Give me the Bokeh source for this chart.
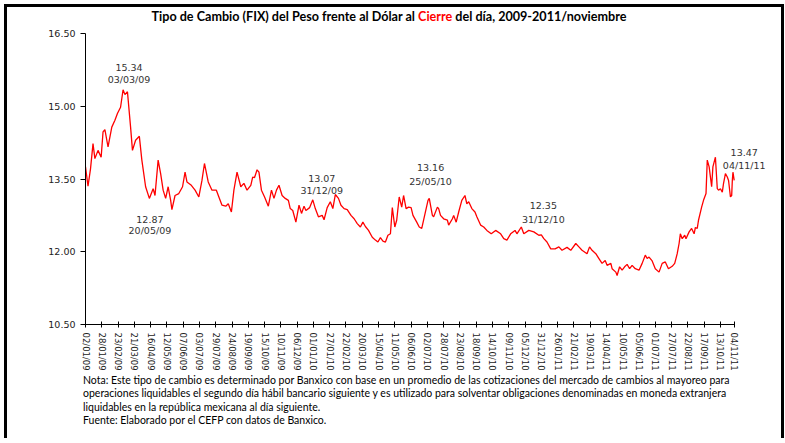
import pandas as pd
from bokeh.plotting import figure
from bokeh.layouts import column
from bokeh.models import (Range1d, FixedTicker, ColumnDataSource,
                          NumeralTickFormatter, Div)
from bokeh.core.properties import value
from bokeh.embed import file_html
from bokeh.resources import INLINE

# ---------------- data ----------------
start_date = "2009-01-02"          # day_offsets are calendar days since this date
day_offsets = [
    0, 4, 8, 12, 15, 20, 25, 28, 31, 36, 42, 47, 51, 56, 60, 63, 67, 72, 75, 80,
    86, 90, 96, 102, 108, 111, 116, 120, 124, 128, 132, 136, 138, 143, 149, 155, 159, 162, 169, 175,
    181, 186, 190, 196, 202, 209, 213, 218, 224, 228, 233, 237, 242, 248, 253, 258, 264, 267, 270, 274,
    277, 281, 286, 292, 297, 301, 305, 309, 314, 319, 324, 327, 331, 336, 341, 345, 349, 352, 358, 363,
    367, 372, 378, 381, 386, 391, 395, 399, 404, 408, 413, 418, 424, 429, 434, 439, 443, 447, 452, 458,
    463, 467, 471, 475, 479, 483, 487, 490, 494, 497, 501, 505, 508, 512, 516, 520, 523, 529, 533, 537,
    547, 549, 554, 556, 562, 564, 567, 572, 578, 580, 586, 588, 592, 596, 601, 606, 609, 612, 617, 622,
    625, 631, 636, 641, 648, 655, 663, 668, 673, 679, 686, 689, 696, 700, 708, 716, 724, 728, 732, 737,
    743, 750, 756, 761, 769, 775, 783, 788, 793, 801, 805, 809, 815, 820, 825, 830, 833, 839, 841, 847,
    849, 853, 857, 861, 865, 869, 873, 878, 884, 889, 894, 897, 900, 905, 910, 916, 921, 926, 931, 937,
    941, 945, 948, 950, 953, 957, 959, 964, 968, 972, 974, 977, 979, 984, 987, 991, 993, 996, 1000, 1002,
    1006, 1009, 1011, 1014, 1017, 1019, 1022, 1025, 1027, 1030, 1032, 1033, 1034, 1036,
]
fix_values = [
    13.75, 13.35, 13.71, 14.23, 13.92, 14.09, 13.95, 14.47, 14.52, 14.16, 14.57, 14.71, 14.85, 14.98, 15.34, 15.24, 15.30, 14.57, 14.09, 14.30,
    14.38, 13.89, 13.34, 13.10, 13.30, 13.16, 13.89, 13.61, 13.27, 13.10, 13.34, 13.06, 12.87, 13.16, 13.20, 13.34, 13.64, 13.44, 13.37, 13.27,
    13.13, 13.47, 13.82, 13.44, 13.27, 13.27, 13.13, 12.96, 12.94, 12.99, 12.82, 13.27, 13.64, 13.34, 13.41, 13.27, 13.37, 13.54, 13.53, 13.69,
    13.64, 13.27, 13.13, 12.94, 13.27, 13.10, 13.27, 13.37, 13.16, 13.10, 13.06, 12.89, 12.85, 12.61, 12.96, 12.79, 12.94, 12.85, 12.91, 13.07,
    12.89, 12.72, 12.75, 12.66, 12.91, 13.03, 12.89, 13.18, 13.10, 12.96, 12.89, 12.87, 12.75, 12.68, 12.58, 12.51, 12.61, 12.52, 12.44, 12.30,
    12.24, 12.20, 12.29, 12.22, 12.20, 12.34, 12.37, 12.91, 12.51, 12.65, 13.13, 12.92, 13.16, 12.89, 12.92, 12.91, 12.75, 12.61, 12.51, 12.48,
    13.06, 13.10, 12.75, 12.72, 12.92, 12.89, 12.75, 12.68, 12.65, 12.55, 12.68, 12.75, 12.61, 12.82, 13.06, 13.16, 12.99, 13.03, 12.89, 12.82,
    12.72, 12.55, 12.51, 12.44, 12.37, 12.44, 12.37, 12.27, 12.24, 12.37, 12.44, 12.37, 12.51, 12.37, 12.44, 12.41, 12.34, 12.35, 12.27, 12.20,
    12.06, 12.06, 12.10, 12.03, 12.09, 12.03, 12.17, 12.10, 12.03, 11.96, 12.10, 12.03, 11.96, 11.86, 11.76, 11.82, 11.72, 11.76, 11.65, 11.58,
    11.51, 11.69, 11.62, 11.69, 11.74, 11.65, 11.72, 11.65, 11.62, 11.76, 11.93, 11.86, 11.89, 11.81, 11.65, 11.58, 11.76, 11.79, 11.65, 11.70,
    11.76, 11.96, 12.17, 12.37, 12.27, 12.34, 12.27, 12.41, 12.48, 12.37, 12.50, 12.48, 12.65, 12.92, 13.06, 13.20, 13.89, 13.75, 13.34, 13.75,
    13.95, 13.30, 13.27, 13.30, 13.23, 13.41, 13.61, 13.54, 13.47, 13.13, 13.16, 13.47, 13.64, 13.47,
]

tick_labels = [
    "02/01/09", "28/01/09", "23/02/09", "21/03/09", "16/04/09", "12/05/09", "07/06/09",
    "03/07/09", "29/07/09", "24/08/09", "19/09/09", "15/10/09", "10/11/09", "06/12/09",
    "01/01/10", "27/01/10", "22/02/10", "20/03/10", "15/04/10", "11/05/10", "06/06/10",
    "02/07/10", "28/07/10", "23/08/10", "18/09/10", "14/10/10", "09/11/10", "05/12/10",
    "31/12/10", "26/01/11", "21/02/11", "19/03/11", "14/04/11", "10/05/11", "05/06/11",
    "01/07/11", "27/07/11", "22/08/11", "17/09/11", "13/10/11", "04/11/11",
]
y_ticks = [10.50, 12.00, 13.50, 15.00, 16.50]

ann_dates = ["03/03/09", "20/05/09", "31/12/09", "25/05/10", "31/12/10", "04/11/11"]
ann_values = [15.34, 12.87, 13.07, 13.16, 12.35, 13.47]

title_left = "Tipo de Cambio (FIX) del Peso frente al Dólar al"
title_red = "Cierre"
title_right = "del día, 2009-2011/noviembre"
note_lines = [
    "Nota: Este tipo de cambio es determinado por Banxico con base en un promedio de las cotizaciones del mercado de cambios al mayoreo para",
    "operaciones liquidables el segundo día hábil bancario siguiente y es utilizado  para solventar obligaciones denominadas en moneda extranjera",
    "liquidables en la república mexicana al día siguiente.",
    "Fuente: Elaborado por el CEFP con datos de Banxico.",
]

# ---------------- build ----------------
dates = pd.Timestamp(start_date) + pd.to_timedelta(day_offsets, unit="D")
tick_dates = pd.to_datetime(tick_labels, format="%d/%m/%y")
tick_ms = [float(d.value // 10**6) for d in tick_dates]
ann_x = pd.to_datetime(ann_dates, format="%d/%m/%y")

# room to the right of the last date so the last data label is not clipped
pad_right = pd.Timedelta(days=50)

W, H = 774, 347
p = figure(width=W, height=H, x_axis_type="datetime",
           x_range=Range1d(tick_dates[0], tick_dates[-1] + pad_right),
           y_range=Range1d(y_ticks[0], y_ticks[-1]),
           output_backend="svg", toolbar_location=None,
           min_border_left=78, min_border_right=16,
           min_border_top=6, min_border_bottom=50, margin=(0, 0, 0, 0))
p.background_fill_color = "white"
p.border_fill_color = "white"
p.outline_line_color = None
p.xgrid.visible = False
p.ygrid.visible = False

p.line(dates, fix_values, line_color="#FF0000", line_width=1.3)

# axes
ya = p.yaxis[0]
ya.ticker = FixedTicker(ticks=y_ticks)
ya.formatter = NumeralTickFormatter(format="0.00")
ya.major_tick_in = 0
ya.major_tick_out = 5
ya.minor_tick_line_color = None
ya.axis_line_color = "black"
ya.major_tick_line_color = "black"
ya.major_label_text_font = "DejaVu Sans"
ya.major_label_text_font_size = "9.5px"
ya.major_label_text_color = "#222222"
ya.major_label_standoff = 5

xa = p.xaxis[0]
xa.bounds = (tick_ms[0], tick_ms[-1])
xa.ticker = FixedTicker(ticks=tick_ms)
xa.major_label_overrides = {t: lab for t, lab in zip(tick_ms, tick_labels)}
xa.major_label_orientation = "vertical"
xa.major_tick_in = 3
xa.major_tick_out = 3
xa.minor_tick_line_color = None
xa.axis_line_color = "black"
xa.major_tick_line_color = "black"
xa.major_label_text_font = "DejaVu Sans"
xa.major_label_text_font_size = "8.5px"
xa.major_label_text_color = "#222222"
xa.major_label_standoff = 5

# data labels (value line and date line, pixel offsets from the point)
val_dx = [6, -22, 9, 27, 2, 10]
val_dy = [-22, 10, -21, -28, -29, -28]
date_dx = [6, -22, 9, 27, 2, 10]
date_dy = [-10, 21, -9, -14, -15, -15]
src = ColumnDataSource(dict(x=ann_x, y=ann_values,
                            vlab=[f"{v:.2f}" for v in ann_values], dlab=ann_dates,
                            vdx=val_dx, vdy=val_dy, ddx=date_dx, ddy=date_dy))
common = dict(text_font=value("DejaVu Sans"), text_font_size="9.5px",
              text_color="#333333", text_align="center", text_baseline="middle")
p.text(x="x", y="y", text="vlab", x_offset="vdx", y_offset="vdy", source=src, **common)
p.text(x="x", y="y", text="dlab", x_offset="ddx", y_offset="ddy", source=src, **common)

title_html = (
    '<div style="font-family: Lato, sans-serif; font-weight: bold; font-size: 12.6px; '
    'line-height: 20px; text-align: center; width: 764px; color: black; white-space: nowrap;">'
    f'{title_left} <span style="color:#FF0000">{title_red}</span> {title_right}</div>'
)
title_div = Div(text=title_html, width=W, height=20, margin=(0, 0, 0, 0))

notes_html = (
    '<div style="font-family: Lato, sans-serif; font-size: 10.5px; line-height: 13.3px; '
    'padding-left: 76px; color: black; white-space: nowrap;">'
    + "<br>".join(note_lines) + "</div>"
)
notes_div = Div(text=notes_html, width=W, height=64, margin=(0, 0, 0, 0))

layout = column(title_div, p, notes_div, spacing=0,
                styles={"border-top": "3px solid black", "border-left": "3px solid black",
                        "border-right": "3px solid black", "background-color": "white",
                        "margin-left": "4px", "margin-top": "4px"})

open("out.html", "w").write(file_html(layout, INLINE))
